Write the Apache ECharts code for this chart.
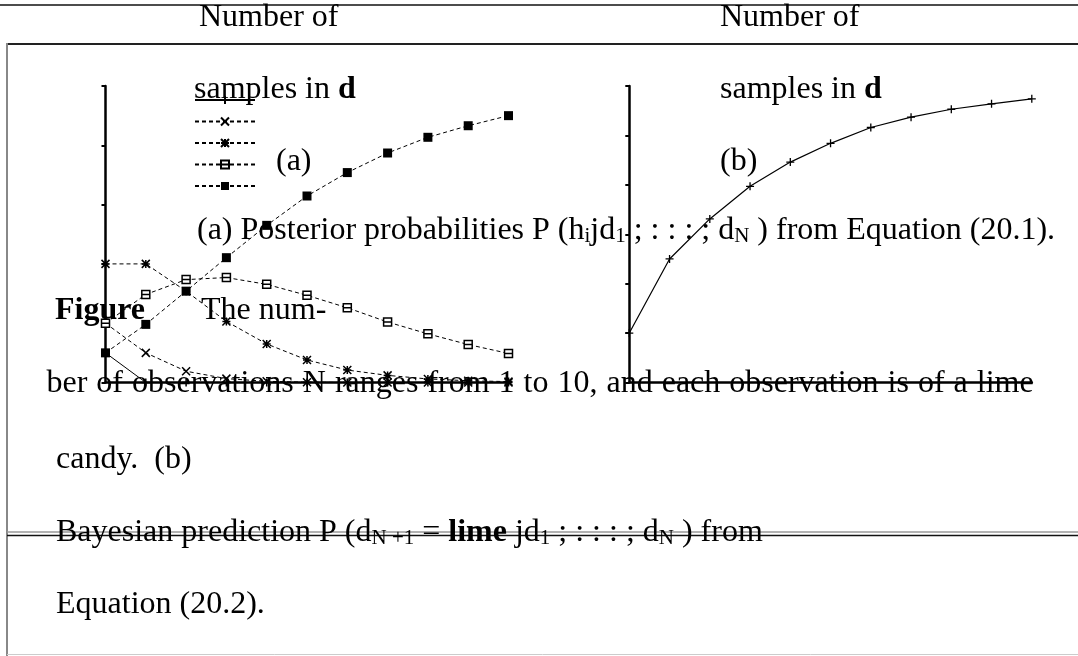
<!DOCTYPE html>
<html>
<head>
<meta charset="utf-8">
<script src="https://cdn.jsdelivr.net/npm/echarts@6/dist/echarts.min.js"></script>
<style>
  html, body { margin: 0; padding: 0; background: #fff; }
  #chart { width: 1078px; height: 656px; }
</style>
</head>
<body>
<div id="chart"></div>
<script>
// Number of lime candies observed so far
const N = [0, 1, 2, 3, 4, 5, 6, 7, 8, 9, 10];

// (a) posterior probability of each candy-bag hypothesis after N limes
const pH1 = [0.10, 0.00, 0.00, 0.00, 0.00, 0.00, 0.00, 0.00, 0.00, 0.00, 0.00];
const pH2 = [0.20, 0.10, 0.038, 0.013, 0.004, 0.001, 0.00, 0.00, 0.00, 0.00, 0.00];
const pH3 = [0.40, 0.40, 0.308, 0.206, 0.130, 0.076, 0.042, 0.024, 0.012, 0.006, 0.003];
const pH4 = [0.20, 0.297, 0.347, 0.354, 0.331, 0.294, 0.252, 0.204, 0.164, 0.128, 0.098];
const pH5 = [0.10, 0.196, 0.308, 0.421, 0.530, 0.629, 0.708, 0.774, 0.827, 0.866, 0.900];

// (b) predicted probability that the next candy is lime
const pLime = [0.50, 0.65, 0.731, 0.797, 0.846, 0.884, 0.916, 0.937, 0.953, 0.964, 0.974];

const seriesNames = ['P(h1 | d)', 'P(h2 | d)', 'P(h3 | d)', 'P(h4 | d)', 'P(h5 | d)'];

const SERIF = '"Liberation Serif", "Times New Roman", serif';
const FS = 32;
const SYM_PLUS = 'path://M5,0L5,10M0,5L10,5';
const SYM_CROSS = 'path://M0,0L10,10M10,0L0,10';
const SYM_STAR = 'path://M0,0L10,10M10,0L0,10M0,5L10,5M5,0L5,10';
const SYM_BOX = 'path://M0,0L10,0L10,10L0,10ZM0,5L10,5';

const pts = ys => ys.map((v, i) => [N[i], v]);

function curve(name, ys, symbol, size, dashed, grid) {
  const filled = symbol === 'rect';
  return {
    name: name,
    type: 'line',
    xAxisIndex: grid,
    yAxisIndex: grid,
    data: pts(ys),
    clip: false,
    symbol: symbol,
    symbolSize: size,
    showSymbol: true,
    lineStyle: { color: '#000', width: 1, type: dashed ? [4, 3] : 'solid' },
    itemStyle: filled
      ? { color: '#000', borderColor: '#000', borderWidth: 0 }
      : { color: '#fff', borderColor: '#000', borderWidth: 1.5 },
    emphasis: { disabled: true },
    z: 3
  };
}

function axisPair(grid, min, max, interval) {
  return {
    x: {
      gridIndex: grid, type: 'value', min: 0, max: 10,
      axisLine: { show: true, onZero: false, lineStyle: { color: '#000', width: 2.5 } },
      axisTick: { show: false }, axisLabel: { show: false }, splitLine: { show: false }
    },
    y: {
      gridIndex: grid, type: 'value', min: min, max: max, interval: interval,
      axisLine: { show: true, onZero: false, lineStyle: { color: '#000', width: 2.5 } },
      axisTick: { show: true, length: 4, lineStyle: { color: '#000', width: 2 } },
      axisLabel: { show: false }, splitLine: { show: false }
    }
  };
}

const axA = axisPair(0, 0, 1, 0.2);
const axB = axisPair(1, 0.4, 1, 0.1);

function txt(text, x, baseline, extra) {
  return {
    type: 'text', z: 1,
    style: Object.assign({
      text: text, x: x, y: baseline - 10,
      fill: '#000', fontFamily: SERIF, fontSize: FS, lineHeight: FS,
      align: 'left', verticalAlign: 'middle'
    }, extra || {})
  };
}

const rich = {
  t: { fontFamily: SERIF, fontSize: FS, lineHeight: FS },
  b: { fontFamily: SERIF, fontSize: FS, lineHeight: FS, fontWeight: 'bold' },
  s: { fontFamily: SERIF, fontSize: 21, lineHeight: 15, verticalAlign: 'bottom' },
  sp: { fontFamily: SERIF, fontSize: FS, lineHeight: FS, width: 9 }
};

// justified paragraph line: words separated by slightly widened spaces
const justified = words => words.map(w => '{t|' + w + '}').join('{sp| }');

function hline(x1, x2, y, color, w) {
  return { type: 'line', z: 0, shape: { x1: x1, y1: y, x2: x2, y2: y }, style: { stroke: color, lineWidth: w } };
}

const graphics = [
  hline(0, 1078, 5, '#111', 1.5),
  hline(6, 1078, 44, '#222', 1.8),
  { type: 'line', z: 0, shape: { x1: 7, y1: 43, x2: 7, y2: 656 }, style: { stroke: '#888', lineWidth: 2 } },
  hline(7, 1078, 532, '#999', 1.5),
  hline(7, 1078, 535.5, '#111', 1.5),
  hline(7, 1078, 654.5, '#ccc', 1),

  txt('Number of', 199, 28),
  txt('Number of', 720, 28),
  txt('{t|samples in }{b|d}', 194, 100, { rich: rich }),
  txt('{t|samples in }{b|d}', 720, 100, { rich: rich }),
  txt('(a)', 276, 172),
  txt('(b)', 720, 172),
  txt('{t|(a) Posterior probabilities P (h}{s|i}{t|jd}{s|1}{t| ; : : : ; d}{s|N}{t| ) from Equation (20.1).}',
      197, 241, { rich: rich }),
  txt('Figure', 55, 321, { fontWeight: 'bold' }),
  txt('The num-', 201, 321),
  txt(justified('ber of observations N ranges from 1 to 10, and each observation is of a lime'.split(' ')),
      46.5, 394, { rich: rich }),
  txt('candy.  (b)', 56, 470),
  txt('{t|Bayesian prediction P (d}{s|N +1}{t| = }{b|lime}{t| jd}{s|1}{t| ; : : : ; d}{s|N}{t| ) from}',
      56, 543, { rich: rich }),
  txt('Equation (20.2).', 56, 615)
];

const chart = echarts.init(document.getElementById('chart'), null, { renderer: 'canvas' });
chart.setOption({
  animation: false,
  backgroundColor: '#fff',
  grid: [
    { left: 105.5, top: 86, width: 403, height: 296.5 },
    { left: 629.3, top: 86, width: 402.5, height: 296.5 }
  ],
  xAxis: [axA.x, axB.x],
  yAxis: [axA.y, axB.y],
  legend: {
    data: seriesNames,
    orient: 'vertical',
    left: 194, top: 95,
    itemWidth: 60, itemHeight: 10, itemGap: 11.5,
    selectedMode: false,
    formatter: () => '',
    textStyle: { fontSize: 1, padding: 0 },
    padding: 0
  },
  graphic: graphics,
  series: [
    curve(seriesNames[0], pH1, SYM_PLUS, 8, false, 0),
    curve(seriesNames[1], pH2, SYM_CROSS, 8, true, 0),
    curve(seriesNames[2], pH3, SYM_STAR, 8, true, 0),
    curve(seriesNames[3], pH4, SYM_BOX, 8, true, 0),
    curve(seriesNames[4], pH5, 'rect', 9, true, 0),
    Object.assign(curve('P(lime)', pLime, SYM_PLUS, 8, false, 1), {
      lineStyle: { color: '#000', width: 1.2, type: 'solid' },
      itemStyle: { color: '#fff', borderColor: '#000', borderWidth: 1.3 }
    })
  ]
});
</script>
</body>
</html>
